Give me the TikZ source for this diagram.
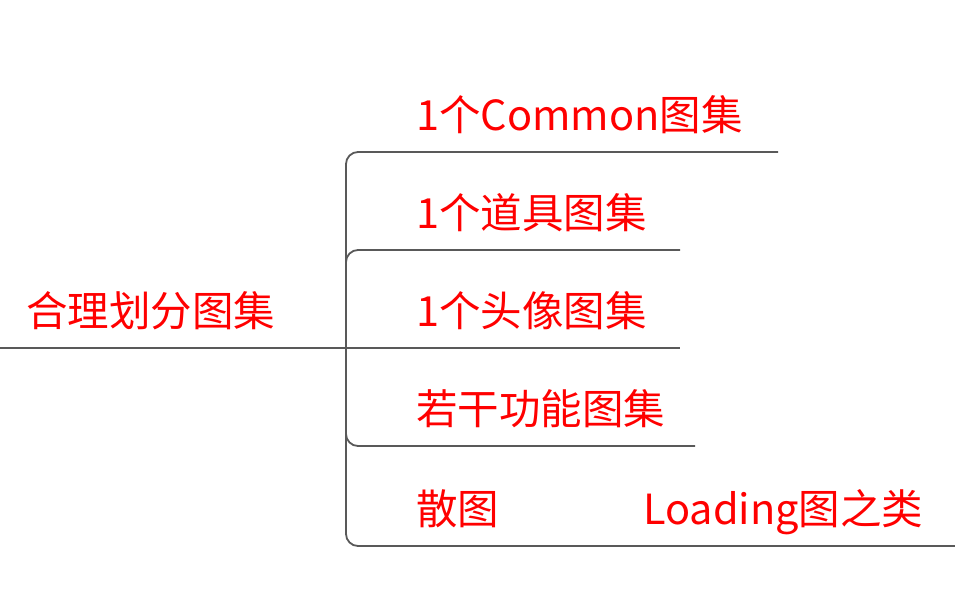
\documentclass[tikz,border=0pt]{standalone}
\usepackage{fontspec}
\newfontfamily\cjk{Noto Sans CJK SC}
\usetikzlibrary{positioning}

\begin{document}
\begin{tikzpicture}[x=1pt,y=-1pt,
  topic/.style={text=red,font=\cjk\fontsize{41.5}{45}\selectfont,inner sep=0pt,anchor=base west},
  branch/.style={draw=black!65,line width=1.8pt,rounded corners=12pt}]
\useasboundingbox (0,0) rectangle (955,608);
% hub and branch ends
\coordinate (start) at (0,348);
\coordinate (hub) at (346,348);
\coordinate (e1) at (778,152);
\coordinate (e2) at (680,250);
\coordinate (e3) at (680,348);
\coordinate (e4) at (695,446);
\coordinate (e5) at (955,546);
% topics
\node[topic] (root) at (26,326) {合理划分图集};
\node[topic] (common) at (416,130) {1个Common图集};
\node[topic] (props) at (416,228) {1个道具图集};
\node[topic] (avatar) at (416,326) {1个头像图集};
\node[topic] (func) at (416,424) {若干功能图集};
\node[topic] (loose) at (416,524) {散图};
\node[topic] (loading) at (643,524) {Loading图之类};
% branches
\draw[branch] (start) -- (hub) -- (e3);
\draw[branch] (hub) |- (e1);
\draw[branch] (hub) |- (e2);
\draw[branch] (hub) |- (e4);
\draw[branch] (hub) |- (e5);
\end{tikzpicture}
\end{document}
